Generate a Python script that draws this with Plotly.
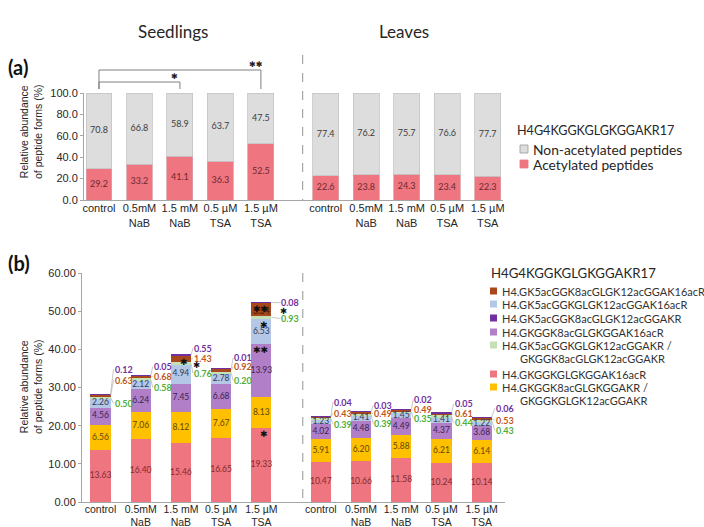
import plotly.graph_objects as go

W, H = 704, 527

treatments = ["control", "0.5mM<br>NaB", "1.5 mM<br>NaB", "0.5 µM<br>TSA", "1.5 µM<br>TSA"]
tissues = ["Seedlings", "Leaves"]
peptide = "H4G4KGGKGLGKGGAKR17"

# (a) acetylated vs non-acetylated share (%), seedlings then leaves
acetylated = [29.2, 33.2, 41.1, 36.3, 52.5, 22.6, 23.8, 24.3, 23.4, 22.3]
non_acetylated = [70.8, 66.8, 58.9, 63.7, 47.5, 77.4, 76.2, 75.7, 76.6, 77.7]

# (b) acetylated peptide forms (%), seedlings then leaves, stacked bottom -> top
k16ac = [13.63, 16.40, 15.46, 16.65, 19.33, 10.47, 10.66, 11.58, 10.24, 10.14]
k8ac_or_k12ac = [6.56, 7.06, 8.12, 7.67, 8.13, 5.91, 6.20, 5.88, 6.21, 6.14]
k8k16ac = [4.56, 6.24, 7.45, 6.68, 13.93, 4.02, 4.48, 4.49, 4.37, 3.68]
k5k12k16ac = [2.26, 2.12, 4.94, 2.78, 6.53, 1.23, 1.41, 1.45, 1.41, 1.22]
k5k12_or_k8k12ac = [0.50, 0.58, 0.76, 0.20, 0.93, 0.39, 0.39, 0.35, 0.44, 0.43]
k5k8k12k16ac = [0.63, 0.68, 1.43, 0.92, 3.34, 0.43, 0.49, 0.49, 0.61, 0.53]
k5k8k12ac = [0.12, 0.05, 0.55, 0.01, 0.08, 0.04, 0.03, 0.02, 0.05, 0.06]

# significance: brackets in (a) and marks on segments in (b)
sig_a = [(0, 2, "✱"), (0, 4, "✱✱")]
sig_b = [(2, "k5k8k12k16ac", "✱"), (4, "k5k8k12k16ac", "✱✱"), (4, "k5k12k16ac", "✱"),
         (4, "k8k16ac", "✱✱"), (4, "k16ac", "✱")]
sig_b_outside = [(2, "✱"), (4, "✱")]   # next to the small green value label

RED, GOLD, LILAC, BLUE = "#EF7580", "#FFC000", "#B07FC7", "#B4C7E7"
GREEN, BROWN, PURPLE, GRAY = "#C5E0B4", "#A9471C", "#7030A0", "#DDDDDD"
AXIS = "#A6A6A6"
CAL = "Lato"
ARIAL = "Liberation Sans"
STAR = "DejaVu Sans"

forms = [  # key, legend name, values, colour, inside-label colour
    ("k16ac", "H4.GKGGKGLGKGGAK16acR", k16ac, RED, "#7a2c33"),
    ("k8ac_or_k12ac", "H4.GKGGK8acGLGKGGAKR /|GKGGKGLGK12acGGAKR", k8ac_or_k12ac, GOLD, "#5e4708"),
    ("k8k16ac", "H4.GKGGK8acGLGKGGAK16acR", k8k16ac, LILAC, "#3d2250"),
    ("k5k12k16ac", "H4.GK5acGGKGLGK12acGGAK16acR", k5k12k16ac, BLUE, "#2f3b55"),
    ("k5k12_or_k8k12ac", "H4.GK5acGGKGLGK12acGGAKR /|GKGGK8acGLGK12acGGAKR", k5k12_or_k8k12ac, GREEN, "#3b7a2a"),
    ("k5k8k12k16ac", "H4.GK5acGGK8acGLGK12acGGAK16acR", k5k8k12k16ac, BROWN, "#3a1806"),
    ("k5k8k12ac", "H4.GK5acGGK8acGLGK12acGGAKR", k5k8k12ac, PURPLE, "#ffffff"),
]
legend_order = ["k5k8k12k16ac", "k5k12k16ac", "k5k8k12ac", "k8k16ac",
                "k5k12_or_k8k12ac", "k16ac", "k8ac_or_k12ac"]
outside_colors = {"k5k8k12ac": "#7030A0", "k5k8k12k16ac": "#C0581A", "k5k12_or_k8k12ac": "#4FAE3C"}

# ---- geometry helpers (pixel -> paper) ----
def fx(p):
    return p / W


def fy(p):
    return 1 - p / H


gap_a, gap_b = 1.6, 1.48
pos_a = [i for i in range(5)] + [i + 4 + gap_a for i in range(5)]
pos_b = [i for i in range(5)] + [i + 4 + gap_b for i in range(5)]
bw_a, bw_b = 0.64, 0.50
xr_a, xr_b = [-0.37, 9.98], [-0.46, 10.06]
divider = 5.03
dom_a = (fx(84), fx(503))
dom_b = (fx(82), fx(505))
ydom_a = (fy(200), fy(93))
ydom_b = (fy(502), fy(273))


def xd(p, xr):
    return (p - xr[0]) / (xr[1] - xr[0])


fig = go.Figure()

# ---- panel (a) ----
fig.add_trace(go.Bar(x=pos_a, y=acetylated, width=bw_a, name="Acetylated peptides",
                     marker=dict(color=RED, line=dict(color="#D9A0A5", width=0.8)),
                     xaxis="x", yaxis="y", hoverinfo="skip"))
fig.add_trace(go.Bar(x=pos_a, y=non_acetylated, width=bw_a, name="Non-acetylated peptides",
                     marker=dict(color=GRAY, line=dict(color="#C4C4C4", width=0.8)),
                     xaxis="x", yaxis="y", hoverinfo="skip"))
fig.add_trace(go.Scatter(x=pos_a, y=[v / 2 for v in acetylated], mode="text",
                         text=[f"{v:.1f}" for v in acetylated],
                         textfont=dict(family=CAL, size=9, color="#6b2a2f"),
                         xaxis="x", yaxis="y", hoverinfo="skip", showlegend=False, cliponaxis=False))
fig.add_trace(go.Scatter(x=pos_a, y=[a + n / 2 for a, n in zip(acetylated, non_acetylated)], mode="text",
                         text=[f"{v:.1f}" for v in non_acetylated],
                         textfont=dict(family=CAL, size=9, color="#3c3c3c"),
                         xaxis="x", yaxis="y", hoverinfo="skip", showlegend=False, cliponaxis=False))

# ---- panel (b) ----
cum = [0.0] * 10
seg = {}
for key, name, vals, col, tcol in forms:
    fig.add_trace(go.Bar(x=pos_b, y=vals, width=bw_b, name=name.replace("|", ""),
                         marker=dict(color=col, line=dict(width=0)),
                         xaxis="x2", yaxis="y2", hoverinfo="skip"))
    seg[key] = [(c, c + v) for c, v in zip(cum, vals)]
    cum = [c + v for c, v in zip(cum, vals)]
totals = cum

inside_keys = ["k16ac", "k8ac_or_k12ac", "k8k16ac", "k5k12k16ac"]
for key, name, vals, col, tcol in forms:
    if key in inside_keys:
        xs = pos_b
        ys = [(lo + hi) / 2 for lo, hi in seg[key]]
        ts = [f"{v:.2f}" for v in vals]
    elif key == "k5k8k12k16ac":
        idx = [i for i, v in enumerate(vals) if v >= 2]
        xs = [pos_b[i] for i in idx]
        ys = [seg[key][i][0] + vals[i] * 0.25 for i in idx]
        ts = [f"{vals[i]:.2f}" for i in idx]
    else:
        continue
    fig.add_trace(go.Scatter(x=xs, y=ys, mode="text", text=ts,
                             textfont=dict(family=CAL, size=8.5, color=tcol),
                             xaxis="x2", yaxis="y2", hoverinfo="skip", showlegend=False, cliponaxis=False))

annotations = []
shapes = []

# small values written beside each bar, with leader lines
ppu_b = (502 - 273) / 60
label_offsets = [(-25, -14, 9), (-9, 1, 12), (-6, 4, 19), (-11, -2, 12), (0, None, 16),
                 (-14, -3, 8), (-6, 2, 12), (-10, 0, 9), (-9, 1, 10), (-9, 3, 13)]
label_dx = [3, 2, 2, 2, 9, 2, 2, 2, 2, 3]
vals_by_key = {k: v for k, _, v, _, _ in forms}
for i in range(10):
    top = totals[i]
    xe = pos_b[i] + bw_b / 2
    for key, off in zip(["k5k8k12ac", "k5k8k12k16ac", "k5k12_or_k8k12ac"], label_offsets[i]):
        if off is None:
            continue
        lo, hi = seg[key][i]
        mid = (lo + hi) / 2
        ay = off - (top - mid) * ppu_b
        annotations.append(dict(
            x=xe, y=mid, xref="x2", yref="y2", text=f"<b>{vals_by_key[key][i]:.2f}</b>",
            showarrow=True, arrowhead=0, arrowwidth=0.7, arrowcolor="#B0B0B0",
            ax=label_dx[i], ay=ay, xanchor="left", yanchor="middle",
            font=dict(family=CAL, size=9, color=outside_colors[key]), borderpad=0))
        if key == "k5k12_or_k8k12ac":
            for j, mark in sig_b_outside:
                if j == i:
                    annotations.append(dict(
                        x=xe, y=mid, xref="x2", yref="y2", text=mark, showarrow=False,
                        xanchor="left", yanchor="middle", xshift=label_dx[i] - 2, yshift=8 - ay,
                        font=dict(family=STAR, size=8.5, color="#111111")))

for i, key, mark in sig_b:
    lo, hi = seg[key][i]
    annotations.append(dict(
        x=pos_b[i] + bw_b / 2, y=hi, xref="x2", yref="y2", text=mark, showarrow=False,
        xanchor="right", yanchor="top", xshift=-1, yshift=1,
        font=dict(family=STAR, size=9, color="#111111")))

# significance brackets in (a)
for j, (i0, i1, mark) in enumerate(sig_a):
    ytop = 82 if i1 == 2 else 70
    x0, x1 = xd(pos_a[i0], xr_a), xd(pos_a[i1], xr_a)
    line = dict(color="#7F7F7F", width=1)
    shapes.append(dict(type="line", xref="x domain", yref="paper", x0=x0, x1=x1,
                       y0=fy(ytop), y1=fy(ytop), line=line))
    shapes.append(dict(type="line", xref="x domain", yref="paper", x0=x1, x1=x1,
                       y0=fy(ytop), y1=fy(89), line=line))
    shapes.append(dict(type="line", xref="x domain", yref="paper", x0=x0, x1=x0,
                       y0=fy(ytop), y1=fy(89), line=line))
    annotations.append(dict(x=pos_a[i1], y=fy(ytop), xref="x", yref="paper", text=mark,
                            showarrow=False, xanchor="center", yanchor="bottom", xshift=-5, yshift=-1,
                            font=dict(family=STAR, size=8, color="#222222")))

# dashed dividers between tissues
for xr, ax_dom, y0, y1 in [(xr_a, "x domain", 55, 200), (xr_b, "x2 domain", 273, 502)]:
    shapes.append(dict(type="line", xref=ax_dom, yref="paper", x0=xd(divider, xr), x1=xd(divider, xr),
                       y0=fy(y0), y1=fy(y1), line=dict(color="#A6A6A6", width=1.2, dash="dash")))

# tissue titles and panel letters
for name, px_c in zip(tissues, [173, 404]):
    annotations.append(dict(x=fx(px_c), y=fy(32), xref="paper", yref="paper", text=name, showarrow=False,
                            xanchor="center", yanchor="middle",
                            font=dict(family=CAL, size=17, color="#262626")))
for letter, py_c in [("(a)", 67), ("(b)", 263)]:
    annotations.append(dict(x=fx(6), y=fy(py_c), xref="paper", yref="paper", text=f"<b>{letter}</b>",
                            showarrow=False, xanchor="left", yanchor="middle",
                            font=dict(family=CAL, size=20, color="#111111")))

# rotated y-axis titles
for py_c in [132, 387]:
    annotations.append(dict(x=fx(31), y=fy(py_c), xref="paper", yref="paper",
                            text="Relative abundance<br>of peptide forms (%)", showarrow=False,
                            textangle=-90, xanchor="center", yanchor="middle",
                            font=dict(family=ARIAL, size=10.5, color="#262626")))

# legend of (a)
annotations.append(dict(x=fx(515), y=fy(130), xref="paper", yref="paper", text=peptide, showarrow=False,
                        xanchor="left", yanchor="middle", font=dict(family=CAL, size=12.6, color="#262626")))
for label, col, edge, py_c in [("Non-acetylated peptides", GRAY, "#9A9A9A", 149),
                               ("Acetylated peptides", RED, RED, 164)]:
    shapes.append(dict(type="rect", xref="paper", yref="paper", x0=fx(520), x1=fx(528),
                       y0=fy(py_c + 4), y1=fy(py_c - 4), fillcolor=col, line=dict(color=edge, width=0.8)))
    annotations.append(dict(x=fx(531), y=fy(py_c), xref="paper", yref="paper", text=label, showarrow=False,
                            xanchor="left", yanchor="middle",
                            font=dict(family=CAL, size=13.8, color="#262626")))

# legend of (b)
annotations.append(dict(x=fx(489), y=fy(273), xref="paper", yref="paper", text=peptide, showarrow=False,
                        xanchor="left", yanchor="middle", font=dict(family=CAL, size=13.2, color="#262626")))
legend_rows = [291, 304, 318, 332, 345, 374, 387]
form_by_key = {k: (n, c) for k, n, _, c, _ in forms}
for key, py_c in zip(legend_order, legend_rows):
    name, col = form_by_key[key]
    parts = name.split("|")
    shapes.append(dict(type="rect", xref="paper", yref="paper", x0=fx(490), x1=fx(497),
                       y0=fy(py_c + 3.5), y1=fy(py_c - 3.5), fillcolor=col, line=dict(width=0)))
    annotations.append(dict(x=fx(500), y=fy(py_c), xref="paper", yref="paper", text=parts[0], showarrow=False,
                            xanchor="left", yanchor="middle", font=dict(family=CAL, size=11, color="#333333")))
    if len(parts) > 1:
        annotations.append(dict(x=fx(518), y=fy(py_c + 13.5), xref="paper", yref="paper", text=parts[1],
                                showarrow=False, xanchor="left", yanchor="middle",
                                font=dict(family=CAL, size=11, color="#333333")))

tickfont = dict(family=ARIAL, size=11, color="#262626")
common = dict(showline=True, linecolor=AXIS, linewidth=1, showgrid=False, zeroline=False,
              automargin=False)
fig.update_layout(
    width=W, height=H, margin=dict(l=0, r=0, t=0, b=0, autoexpand=False),
    paper_bgcolor="white", plot_bgcolor="white", barmode="stack", showlegend=False,
    xaxis=dict(domain=list(dom_a), range=xr_a, tickvals=pos_a, ticktext=treatments * 2, anchor="y",
               ticks="", ticklabelstandoff=-2, tickfont=tickfont, **common),
    yaxis=dict(domain=list(ydom_a), range=[0, 100], tickvals=[0, 20, 40, 60, 80, 100], tickformat=".1f",
               anchor="x", ticks="outside", ticklen=3, tickcolor=AXIS, tickfont=tickfont, **common),
    xaxis2=dict(domain=list(dom_b), range=xr_b, tickvals=pos_b, ticktext=treatments * 2, anchor="y2",
                ticks="", ticklabelstandoff=-3, tickfont=dict(family=ARIAL, size=10.5, color="#262626"),
                **common),
    yaxis2=dict(domain=list(ydom_b), range=[0, 60], tickvals=[0, 10, 20, 30, 40, 50, 60], tickformat=".2f",
                anchor="x2", ticks="outside", ticklen=3, tickcolor=AXIS, tickfont=tickfont, **common),
    annotations=annotations, shapes=shapes,
)

fig.write_html("out.html")
